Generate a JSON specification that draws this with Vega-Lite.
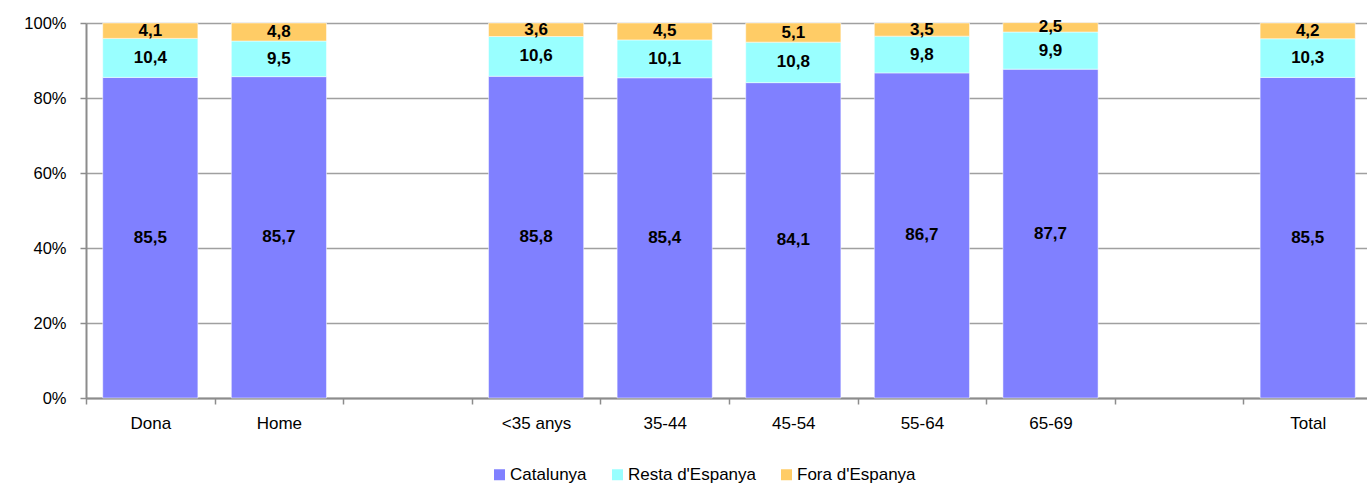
{
  "$schema": "https://vega.github.io/schema/vega-lite/v6.json",
  "autosize": "none",
  "width": 1286,
  "height": 375,
  "padding": {"left": 86, "top": 23, "right": 0, "bottom": 86},
  "background": "white",
  "config": {
    "locale": {"number": {"decimal": ",", "thousands": ".", "grouping": [3], "currency": ["", " €"]}},
    "view": {"stroke": null},
    "font": "Liberation Sans"
  },
  "data": {
    "values": [
      {"cat": "Dona", "origen": "Catalunya", "v": 85.5},
      {"cat": "Dona", "origen": "Resta d'Espanya", "v": 10.4},
      {"cat": "Dona", "origen": "Fora d'Espanya", "v": 4.1},
      {"cat": "Home", "origen": "Catalunya", "v": 85.7},
      {"cat": "Home", "origen": "Resta d'Espanya", "v": 9.5},
      {"cat": "Home", "origen": "Fora d'Espanya", "v": 4.8},
      {"cat": "<35 anys", "origen": "Catalunya", "v": 85.8},
      {"cat": "<35 anys", "origen": "Resta d'Espanya", "v": 10.6},
      {"cat": "<35 anys", "origen": "Fora d'Espanya", "v": 3.6},
      {"cat": "35-44", "origen": "Catalunya", "v": 85.4},
      {"cat": "35-44", "origen": "Resta d'Espanya", "v": 10.1},
      {"cat": "35-44", "origen": "Fora d'Espanya", "v": 4.5},
      {"cat": "45-54", "origen": "Catalunya", "v": 84.1},
      {"cat": "45-54", "origen": "Resta d'Espanya", "v": 10.8},
      {"cat": "45-54", "origen": "Fora d'Espanya", "v": 5.1},
      {"cat": "55-64", "origen": "Catalunya", "v": 86.7},
      {"cat": "55-64", "origen": "Resta d'Espanya", "v": 9.8},
      {"cat": "55-64", "origen": "Fora d'Espanya", "v": 3.5},
      {"cat": "65-69", "origen": "Catalunya", "v": 87.7},
      {"cat": "65-69", "origen": "Resta d'Espanya", "v": 9.9},
      {"cat": "65-69", "origen": "Fora d'Espanya", "v": 2.5},
      {"cat": "Total", "origen": "Catalunya", "v": 85.5},
      {"cat": "Total", "origen": "Resta d'Espanya", "v": 10.3},
      {"cat": "Total", "origen": "Fora d'Espanya", "v": 4.2}
    ]
  },
  "transform": [
    {"calculate": "datum.origen == 'Catalunya' ? 0 : (datum.origen == \"Resta d'Espanya\" ? 1 : 2)", "as": "ord"},
    {"stack": "v", "groupby": ["cat"], "sort": [{"field": "ord", "order": "ascending"}], "as": ["y0", "y1"]},
    {"calculate": "(datum.y0 + datum.y1) / 2", "as": "ym"}
  ],
  "encoding": {
    "x": {
      "field": "cat",
      "type": "nominal",
      "scale": {
        "domain": ["Dona", "Home", "_b1", "<35 anys", "35-44", "45-54", "55-64", "65-69", "_b2", "Total"],
        "paddingInner": 0.26,
        "paddingOuter": 0.13
      },
      "axis": {
        "title": null,
        "orient": "bottom",
        "labelAngle": 0,
        "tickOffset": -64.3,
        "labelOffset": 64.3,
        "labelExpr": "indexof(datum.value, '_b') == 0 ? '' : datum.value",
        "labelFontSize": 17,
        "labelColor": "#000000",
        "labelPadding": 11,
        "tickSize": 6,
        "tickColor": "#8c8c8c",
        "tickWidth": 1.5,
        "domainColor": "#8c8c8c",
        "domainWidth": 2,
        "grid": false
      }
    }
  },
  "layer": [
    {
      "mark": {"type": "bar", "stroke": "white", "strokeWidth": 0.5},
      "encoding": {
        "y": {
          "field": "y0",
          "type": "quantitative",
          "scale": {"domain": [0, 100], "nice": false},
          "axis": {
            "title": null,
            "values": [0, 20, 40, 60, 80, 100],
            "labelExpr": "datum.value + '%'",
            "labelFontSize": 16.5,
            "labelColor": "#000000",
            "labelPadding": 14,
            "tickSize": 6,
            "tickColor": "#8c8c8c",
            "tickWidth": 1.5,
            "domainColor": "#8c8c8c",
            "domainWidth": 2,
            "grid": true,
            "gridColor": "#a0a0a0",
            "gridWidth": 1.5
          }
        },
        "y2": {"field": "y1"},
        "color": {
          "field": "origen",
          "type": "nominal",
          "scale": {
            "domain": ["Catalunya", "Resta d'Espanya", "Fora d'Espanya"],
            "range": ["#8080FF", "#99FFFF", "#FFCC66"]
          },
          "legend": {
            "title": null,
            "orient": "none",
            "direction": "horizontal",
            "legendX": 405,
            "legendY": 443,
            "symbolType": "square",
            "symbolSize": 121,
            "symbolStrokeWidth": 0,
            "labelFontSize": 17,
            "labelColor": "#000000",
            "labelOffset": 2,
            "columnPadding": 22
          }
        }
      }
    },
    {
      "mark": {"type": "text", "fontSize": 17, "fontWeight": "bold", "color": "#000000", "baseline": "middle"},
      "encoding": {
        "y": {"field": "ym", "type": "quantitative"},
        "text": {"field": "v", "type": "quantitative", "format": ".1f"}
      }
    }
  ]
}
